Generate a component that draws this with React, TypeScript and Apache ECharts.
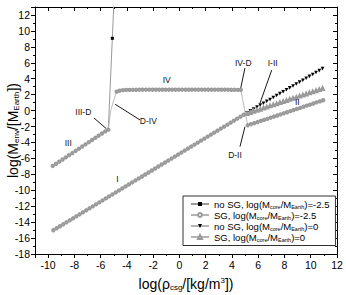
import React, { useEffect, useRef } from "react";
import * as echarts from "echarts";

// ---- data ----
const seriesNames = [
  "no SG, log(M{s|core}/M{s|Earth})=-2.5",
  "SG, log(M{s|core}/M{s|Earth})=-2.5",
  "no SG, log(M{s|core}/M{s|Earth})=0",
  "SG, log(M{s|core}/M{s|Earth})=0",
];

// SG, core -2.5 : region III
const regionIII: number[][] = [
  [-9.65, -6.95], [-9.4, -6.68], [-9.15, -6.41], [-8.9, -6.14], [-8.65, -5.87], [-8.4, -5.6],
  [-8.15, -5.33], [-7.9, -5.05], [-7.65, -4.78], [-7.4, -4.51], [-7.15, -4.24], [-6.9, -3.97],
  [-6.65, -3.69], [-6.4, -3.42], [-6.15, -3.15], [-5.9, -2.88], [-5.65, -2.61], [-5.42, -2.4],
];
// SG, core -2.5 : steep rise (no markers)
const steepRise: number[][] = [[-5.23, 0.02], [-5.04, 1.11]];
// SG, core -2.5 : plateau IV
const plateauIV: number[][] = [
  [-4.78, 2.37], [-4.55, 2.5], [-4.3, 2.56], [-4.05, 2.59], [-3.8, 2.6], [-3.55, 2.61], [-3.3, 2.61],
  [-3.05, 2.62], [-2.8, 2.62], [-2.55, 2.62], [-2.3, 2.62], [-2.05, 2.62], [-1.8, 2.62], [-1.55, 2.62],
  [-1.3, 2.62], [-1.05, 2.62], [-0.8, 2.62], [-0.55, 2.62], [-0.3, 2.62], [-0.05, 2.62], [0.2, 2.62],
  [0.45, 2.62], [0.7, 2.62], [0.95, 2.62], [1.2, 2.62], [1.45, 2.62], [1.7, 2.62], [1.95, 2.62],
  [2.2, 2.62], [2.45, 2.62], [2.7, 2.62], [2.95, 2.62], [3.2, 2.62], [3.45, 2.62], [3.7, 2.62],
  [3.95, 2.61], [4.2, 2.61], [4.45, 2.6], [4.67, 2.6],
];
// SG, core -2.5 : region II
const regionII: number[][] = [
  [5.2, -1.85], [5.45, -1.71], [5.7, -1.58], [5.95, -1.44], [6.2, -1.3], [6.45, -1.16], [6.7, -1.03],
  [6.95, -0.89], [7.2, -0.75], [7.45, -0.62], [7.7, -0.48], [7.95, -0.34], [8.2, -0.21], [8.45, -0.07],
  [8.7, 0.07], [8.95, 0.21], [9.2, 0.34], [9.45, 0.48], [9.7, 0.62], [9.95, 0.75], [10.2, 0.89],
  [10.45, 1.03], [10.7, 1.16], [10.95, 1.3],
];
// no SG, core -2.5 : divergent rise
const noSgRise: number[][] = [[-5.42, -2.4], [-5.11, 9.07], [-4.97, 14.5]];

// core 0 : region I (SG and no SG coincide)
const regionI: number[][] = [
  [-9.6, -15.02], [-9.35, -14.77], [-9.1, -14.52], [-8.85, -14.27], [-8.6, -14.02], [-8.35, -13.77],
  [-8.1, -13.52], [-7.85, -13.27], [-7.6, -13.02], [-7.35, -12.77], [-7.1, -12.52], [-6.85, -12.27],
  [-6.6, -12.02], [-6.35, -11.77], [-6.1, -11.52], [-5.85, -11.27], [-5.6, -11.02], [-5.35, -10.77],
  [-5.1, -10.52], [-4.85, -10.27], [-4.6, -10.02], [-4.35, -9.77], [-4.1, -9.52], [-3.85, -9.27],
  [-3.6, -9.02], [-3.35, -8.77], [-3.1, -8.52], [-2.85, -8.27], [-2.6, -8.02], [-2.35, -7.77],
  [-2.1, -7.52], [-1.85, -7.27], [-1.6, -7.02], [-1.35, -6.77], [-1.1, -6.52], [-0.85, -6.27],
  [-0.6, -6.02], [-0.35, -5.77], [-0.1, -5.52], [0.15, -5.27], [0.4, -5.02], [0.65, -4.77],
  [0.9, -4.52], [1.15, -4.27], [1.4, -4.02], [1.65, -3.77], [1.9, -3.52], [2.15, -3.27],
  [2.4, -3.02], [2.65, -2.77], [2.9, -2.52], [3.15, -2.27], [3.4, -2.02], [3.65, -1.77],
  [3.9, -1.52], [4.15, -1.27], [4.4, -1.02], [4.65, -0.77], [4.9, -0.52],
];
// SG, core 0 : branch after I
const sg0Branch: number[][] = [
  [5.15, -0.38], [5.4, -0.25], [5.65, -0.11], [5.9, 0.03], [6.15, 0.16], [6.4, 0.3], [6.65, 0.44],
  [6.9, 0.58], [7.15, 0.71], [7.4, 0.85], [7.65, 0.99], [7.9, 1.12], [8.15, 1.26], [8.4, 1.4],
  [8.65, 1.53], [8.9, 1.67], [9.15, 1.81], [9.4, 1.95], [9.65, 2.08], [9.9, 2.22], [10.15, 2.36],
  [10.4, 2.49], [10.65, 2.63], [10.9, 2.77],
];
// no SG, core 0 : branch after I
const noSg0Branch: number[][] = [
  [4.9, -0.52], [5.15, -0.28], [5.4, -0.04], [5.65, 0.2], [5.9, 0.44], [6.15, 0.68], [6.4, 0.92],
  [6.65, 1.16], [6.9, 1.4], [7.15, 1.64], [7.4, 1.89], [7.65, 2.13], [7.9, 2.37], [8.15, 2.61],
  [8.4, 2.85], [8.65, 3.09], [8.9, 3.33], [9.15, 3.57], [9.4, 3.81], [9.65, 4.05], [9.9, 4.29],
  [10.15, 4.53], [10.4, 4.77], [10.65, 5.02], [10.9, 5.26],
];

const annotationLabels = ["III", "I", "IV", "IV-D", "I-II", "II", "D-II", "III-D", "D-IV"];
const annotationPos: number[][] = [
  [-8.47, -4.03], [-4.73, -8.62], [-0.97, 3.84], [4.86, 5.93], [7.1, 5.93],
  [8.98, 1.12], [4.23, -5.57], [-7.32, -0.2], [-2.37, -1.27],
];
const arrowFrom: number[][] = [[-6.51, -0.93], [-3.0, -1.18], [4.99, 5.34], [7.03, 5.09], [4.61, -4.53]];
const arrowTo: number[][] = [[-5.58, -2.25], [-4.9, 0.8], [4.67, 2.85], [6.14, 0.95], [4.99, -2.02]];

const FONT = "'Liberation Sans', Arial, Helvetica, sans-serif";
const LINE_GRAY = "#b4b4b4";
const MARK_GRAY = "#9a9a9a";

const noMark = (arr: number[][]) => arr.map((p) => ({ value: p, symbol: "none" }));

export default function App() {
  const ref = useRef<HTMLDivElement>(null);
  useEffect(() => {
    if (!ref.current) return;
    const chart = echarts.init(ref.current, undefined, { renderer: "svg" });
    const xBase = {
      type: "value",
      min: -11,
      max: 12,
      splitNumber: 11,
      minInterval: 2,
      maxInterval: 2,
      splitLine: { show: false },
      axisLine: { show: true, onZero: false, lineStyle: { color: "#000", width: 1 } },
      minorTick: { show: true, splitNumber: 2, length: 2, lineStyle: { color: "#000" } },
    };
    const yBase = {
      type: "value",
      min: -18,
      max: 13,
      interval: 2,
      splitLine: { show: false },
      axisLine: { show: true, onZero: false, lineStyle: { color: "#000", width: 1 } },
      minorTick: { show: true, splitNumber: 2, length: 2, lineStyle: { color: "#000" } },
    };
    const richSub = {
      s: { fontSize: 8, fontFamily: FONT, color: "#000", padding: [7, 0, 0, 0] },
      p: { fontSize: 8, fontFamily: FONT, color: "#000", padding: [0, 0, 7, 0] },
    };
    const option: any = {
      animation: false,
      backgroundColor: "#fff",
      grid: { left: 35, right: 9, top: 7, bottom: 41, containLabel: false, outerBoundsMode: "none" },
      xAxis: [
        {
          ...xBase,
          position: "bottom",
          axisTick: { show: true, inside: false, length: 4, lineStyle: { color: "#000" } },
          axisLabel: {
            fontSize: 10.5,
            fontFamily: FONT,
            color: "#000",
            margin: 5,
            formatter: (v: number) => (Math.abs(v % 2) < 1e-9 ? String(v) : ""),
          },
          name: "log(ρ{s|csg}/[kg/m{p|3}])",
          nameLocation: "middle",
          nameGap: 22,
          nameMoveOverlap: false,
          nameTextStyle: { fontSize: 14, fontFamily: FONT, color: "#000", rich: richSub },
        },
        {
          ...xBase,
          position: "top",
          axisTick: { show: true, inside: true, length: 4, lineStyle: { color: "#000" } },
          axisLabel: { show: false },
        },
      ],
      yAxis: [
        {
          ...yBase,
          position: "left",
          axisTick: { show: true, inside: false, length: 4, lineStyle: { color: "#000" } },
          axisLabel: {
            fontSize: 10.5,
            fontFamily: FONT,
            color: "#000",
            margin: 5,
            formatter: (v: number) => (Math.abs(v % 2) < 1e-9 ? String(v) : ""),
          },
          name: "log(M{s|env}/[M{s|Earth}])",
          nameLocation: "middle",
          nameGap: 15,
          nameRotate: 90,
          nameMoveOverlap: false,
          nameTextStyle: { fontSize: 14, fontFamily: FONT, color: "#000", rich: richSub },
        },
        {
          ...yBase,
          position: "right",
          axisTick: { show: true, inside: true, length: 4, lineStyle: { color: "#000" } },
          axisLabel: { show: false },
        },
      ],
      legend: {
        data: seriesNames,
        orient: "vertical",
        left: 183,
        top: 196,
        padding: [3, 6, 3, 7],
        itemGap: 0.5,
        itemWidth: 18,
        itemHeight: 5,
        borderColor: "#333",
        borderWidth: 1,
        borderRadius: 0,
        backgroundColor: "#fff",
        textStyle: {
          fontSize: 9.5,
          fontFamily: FONT,
          color: "#000",
          rich: {
            s: { fontSize: 5.5, fontFamily: FONT, color: "#000", padding: [5, 0, 0, 0] },
          },
        },
      },
      series: [
        {
          name: seriesNames[0],
          type: "line",
          xAxisIndex: 0,
          yAxisIndex: 0,
          symbol: "rect",
          symbolSize: 3,
          showAllSymbol: true,
          lineStyle: { color: "#999", width: 1 },
          itemStyle: { color: "#000" },
          data: noSgRise.map((p, i) => (i === 1 ? { value: p } : { value: p, symbol: "none" })),
          z: 2,
        },
        {
          name: seriesNames[1],
          type: "line",
          xAxisIndex: 0,
          yAxisIndex: 0,
          symbol: "emptyCircle",
          symbolSize: 2.4,
          showAllSymbol: true,
          lineStyle: { color: LINE_GRAY, width: 0.9 },
          itemStyle: { color: MARK_GRAY, borderWidth: 0.5 },
          data: [...regionIII, ...noMark(steepRise), ...plateauIV, ...regionII],
          z: 3,
        },
        {
          name: seriesNames[2],
          type: "line",
          xAxisIndex: 0,
          yAxisIndex: 0,
          symbol: "triangle",
          symbolRotate: 180,
          symbolSize: 3.6,
          showAllSymbol: true,
          lineStyle: { color: LINE_GRAY, width: 0.9 },
          itemStyle: { color: "#000" },
          data: noSg0Branch.map((p, i) => (i === 0 ? { value: p, symbol: "none" } : { value: p })),
          z: 4,
        },
        {
          name: seriesNames[3],
          type: "line",
          xAxisIndex: 0,
          yAxisIndex: 0,
          symbol: "emptyTriangle",
          symbolSize: 2.8,
          showAllSymbol: true,
          lineStyle: { color: LINE_GRAY, width: 0.9 },
          itemStyle: { color: MARK_GRAY, borderWidth: 0.5 },
          data: [
            ...regionI.map((p) => ({ value: p, symbol: "emptyCircle", symbolSize: 2.4 })),
            ...sg0Branch,
          ],
          z: 5,
        },
        {
          name: "annotations",
          type: "custom",
          xAxisIndex: 0,
          yAxisIndex: 0,
          silent: true,
          z: 6,
          data: annotationPos.map((p, i) => [p[0], p[1], i]),
          renderItem: (params: any, api: any) => {
            const pt = api.coord([api.value(0), api.value(1)]);
            const idx = api.value(2);
            return {
              type: "text",
              x: pt[0],
              y: pt[1],
              style: {
                text: annotationLabels[idx],
                fill: "#111",
                font: `8.5px ${FONT}`,
                align: "center",
                verticalAlign: "middle",
              },
            };
          },
          markLine: {
            silent: true,
            symbol: ["none", "arrow"],
            symbolSize: [0, 6],
            label: { show: false },
            lineStyle: { color: "#000", width: 0.9, type: "solid" },
            data: arrowFrom.map((f, i) => [{ coord: f }, { coord: arrowTo[i] }]),
          },
        },
      ],
    };
    chart.setOption(option);
    return () => chart.dispose();
  }, []);
  return (
    <div
      ref={ref}
      style={{ position: "fixed", left: 0, top: 0, width: 346, height: 295, background: "#fff" }}
    />
  );
}
